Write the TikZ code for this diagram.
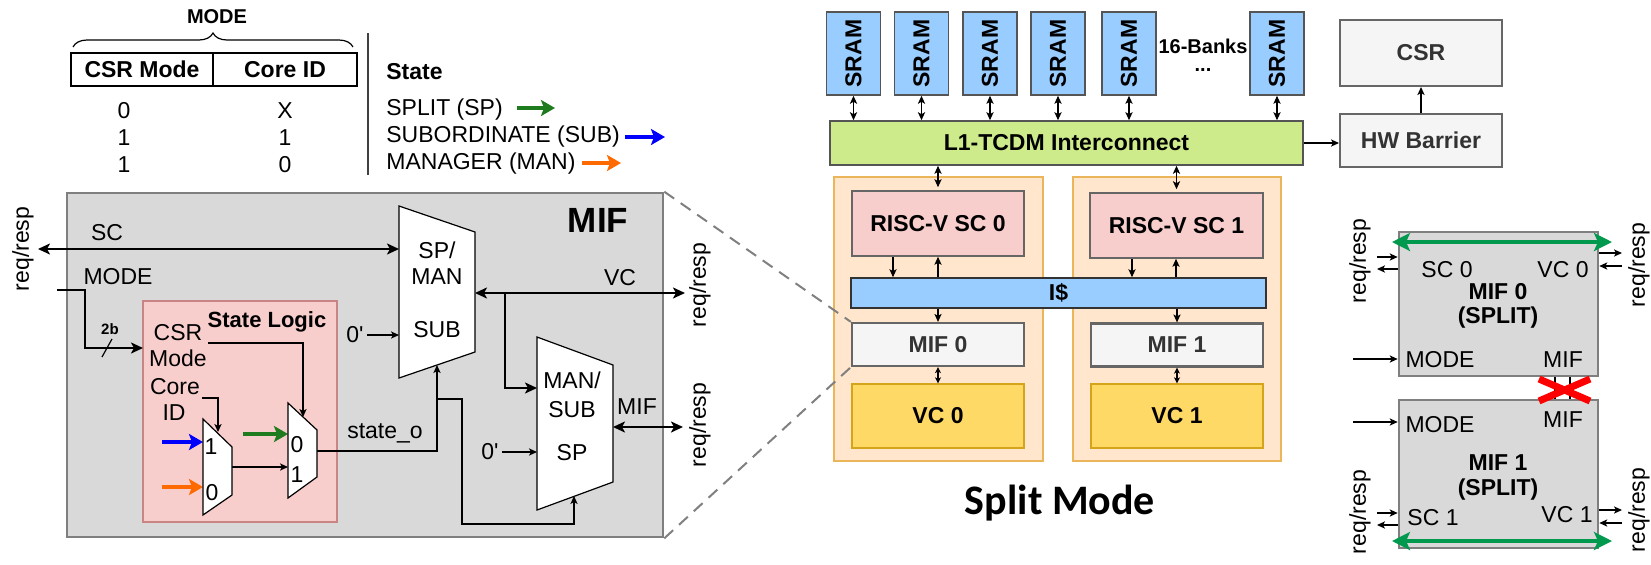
\documentclass[tikz,border=0pt]{standalone}
\usepackage{graphicx}
\usepackage{fontspec}
\setmainfont{Liberation Sans}
\newfontfamily\captionfont{Carlito}
\usetikzlibrary{arrows.meta,decorations.pathreplacing}

\definecolor{mifbg}{HTML}{D9D9D9}
\definecolor{mifedge}{HTML}{7F7F7F}
\definecolor{logicbg}{HTML}{F8CECC}
\definecolor{logicedge}{HTML}{C98583}
\definecolor{srambg}{HTML}{99CCFF}
\definecolor{darkedge}{HTML}{555555}
\definecolor{xbarbg}{HTML}{CDEB8B}
\definecolor{corebg}{HTML}{FFE6CC}
\definecolor{coreedge}{HTML}{EBB65A}
\definecolor{riscbg}{HTML}{F8CECC}
\definecolor{greyedge}{HTML}{666666}
\definecolor{vcbg}{HTML}{FFD966}
\definecolor{vcedge}{HTML}{D6A41A}
\definecolor{paleg}{HTML}{F5F5F5}
\definecolor{txtgray}{HTML}{333333}
\definecolor{spgreen}{HTML}{1E7B1E}
\definecolor{subblue}{HTML}{0000FF}
\definecolor{manorange}{HTML}{FF6A00}
\definecolor{splitgreen}{HTML}{00994D}
\definecolor{dashgray}{HTML}{808080}

\begin{document}
\begin{tikzpicture}[x=0.5pt, y=-0.5pt,
  lbl/.style={inner sep=0pt, font=\fontsize{11.5}{13}\selectfont},
  blbl/.style={inner sep=0pt, font=\fontsize{11.5}{13}\selectfont\bfseries},
  vlbl/.style={lbl, rotate=90},
  wire/.style={line width=0.6pt, draw=black},
  bus/.style={line width=1.1pt, draw=black},
  wtip/.style={-{Stealth[length=4pt,width=3.6pt,inset=1pt]}},
  wboth/.style={{Stealth[length=4pt,width=3.6pt,inset=1pt]}-{Stealth[length=4pt,width=3.6pt,inset=1pt]}},
  sboth/.style={{Stealth[length=3pt,width=3pt,inset=0.8pt]}-{Stealth[length=3pt,width=3pt,inset=0.8pt]}},
  btip/.style={-{Stealth[length=6pt,width=5.5pt,inset=1.5pt]}},
  bboth/.style={{Stealth[length=6pt,width=5.5pt,inset=1.5pt]}-{Stealth[length=6pt,width=5.5pt,inset=1.5pt]}},
  legarrow/.style={line width=1.7pt, -{Stealth[length=7pt,width=8pt,inset=1.5pt]}},
  gboth/.style={line width=1.6pt, draw=splitgreen, {Stealth[length=9pt,width=9pt,inset=2pt]}-{Stealth[length=9pt,width=9pt,inset=2pt]}},
  muxshape/.style={draw=black, fill=white, line width=0.6pt},
  block/.style={draw, inner sep=0pt, align=center, font=\fontsize{11.5}{13}\selectfont\bfseries},
]
\useasboundingbox (0,0) rectangle (1651,564);

% ================= MODE encoding table =================
\node[blbl, font=\fontsize{10}{12}\selectfont\bfseries] (modehdr) at (217,17) {MODE};
\coordinate (braceL) at (73,47);
\coordinate (braceR) at (353,47);
\draw[line width=0.6pt, decorate, decoration={brace, amplitude=7pt}] (braceL) -- (braceR);
\node[draw, line width=0.75pt, minimum width=71pt, minimum height=16.5pt, blbl] (csrcol) at (142,69.5) {CSR Mode};
\node[draw, line width=0.75pt, minimum width=72pt, minimum height=16.5pt, blbl] (coreidcol) at (285,69.5) {Core ID};
\node[lbl] (r1a) at (124,111) {0};
\node[lbl] (r1b) at (285,111) {X};
\node[lbl] (r2a) at (124,138) {1};
\node[lbl] (r2b) at (285,138) {1};
\node[lbl] (r3a) at (124,165) {1};
\node[lbl] (r3b) at (285,165) {0};
\coordinate (sepT) at (368,33);
\coordinate (sepB) at (368,175);
\draw[line width=0.7pt, draw=black!75] (sepT) -- (sepB);

% ================= state legend =================
\node[blbl, anchor=west] (statehdr) at (386,72) {State};
\node[lbl, anchor=west] (stsp) at (386,110) {SPLIT (SP)};
\node[lbl, anchor=west] (stsub) at (386,137) {SUBORDINATE (SUB)};
\node[lbl, anchor=west] (stman) at (386,164) {MANAGER (MAN)};
\coordinate (spA) at (517,108);  \coordinate (spB) at (555,108);
\coordinate (subA) at (625,137); \coordinate (subB) at (665,137);
\coordinate (manA) at (582,163); \coordinate (manB) at (621,163);
\draw[legarrow, draw=spgreen] (spA) -- (spB);
\draw[legarrow, draw=subblue] (subA) -- (subB);
\draw[legarrow, draw=manorange] (manA) -- (manB);

% ================= MIF internals =================
\node[draw=mifedge, fill=mifbg, line width=1.3pt, minimum width=298pt, minimum height=172pt, inner sep=0pt] (mifbox) at (365,365) {};
\node[inner sep=0pt, font=\fontsize{17.5}{20}\selectfont\bfseries] (miftitle) at (598,220) {MIF};

% state logic block
\node[draw=logicedge, fill=logicbg, line width=0.6pt, minimum width=97pt, minimum height=110.5pt, inner sep=0pt] (statelogic) at (240,411.5) {};
\node[blbl, font=\fontsize{11}{13}\selectfont\bfseries] (sltitle) at (267,322) {State Logic};
\node[lbl] (csrlbl) at (178,333) {CSR};
\node[lbl] (modelbl) at (178,358) {Mode};
\node[lbl] (corelbl) at (175,387) {Core};
\node[lbl] (idlbl) at (174,413) {ID};

% external labels
\node[vlbl] (rrsc) at (23,249) {req/resp};
\node[lbl] (sclbl) at (107,233) {SC};
\node[lbl] (modein) at (118,277) {MODE};
\node[inner sep=0pt, font=\fontsize{7.5}{9}\selectfont\bfseries] (twob) at (110,329) {2b};
\node[lbl] (vclbl) at (620,278) {VC};
\node[vlbl] (rrvc) at (700,285) {req/resp};
\node[lbl] (miflbl) at (637,407) {MIF};
\node[vlbl] (rrmif) at (700,425) {req/resp};
\node[lbl] (statelbl) at (385,433) {state\_o};
\node[lbl] (zeroA) at (355,335) {0\textquotesingle};
\node[lbl] (zeroB) at (490,452) {0\textquotesingle};

% port coordinates
\coordinate (scL) at (38,249);    \coordinate (scR) at (399,249);
\coordinate (modeS) at (57,290);  \coordinate (modeK) at (85,290);
\coordinate (modeJ) at (85,348);  \coordinate (modeE) at (143,348);
\coordinate (slashA) at (102,357); \coordinate (slashB) at (112,339);
\coordinate (csrS) at (208,343);  \coordinate (csrK) at (303,343);  \coordinate (csrE) at (303,417);
\coordinate (cidS) at (202,398);  \coordinate (cidK) at (218,398);  \coordinate (cidE) at (218,432);
\coordinate (blueS) at (162,442); \coordinate (blueE) at (203,442);
\coordinate (orS) at (162,487);   \coordinate (orE) at (203,487);
\coordinate (grS) at (243,434);   \coordinate (grE) at (288,434);
\coordinate (m1out) at (232,467); \coordinate (m2in1) at (288,467);
\coordinate (m2out) at (317,451); \coordinate (stK) at (437,451); \coordinate (stE) at (437,365);
\coordinate (stJ) at (437,399);   \coordinate (stK2) at (462,399); \coordinate (stK3) at (462,524);
\coordinate (stK4) at (574,524);  \coordinate (stE2) at (574,496);
\coordinate (zAS) at (367,335);   \coordinate (zAE) at (399,335);
\coordinate (zBS) at (502,452);   \coordinate (zBE) at (537,452);
\coordinate (vcL) at (475,293);   \coordinate (vcR) at (685,293);
\coordinate (brS) at (505,293);   \coordinate (brK) at (505,388);   \coordinate (brE) at (537,388);
\coordinate (mifL) at (613,427);  \coordinate (mifR) at (683,427);

% wires
\draw[bus, bboth] (scL) -- (scR);
\draw[bus, btip] (modeS) -- (modeK) -- (modeJ) -- (modeE);
\draw[wire] (slashA) -- (slashB);
\draw[wire, wtip] (csrS) -- (csrK) -- (csrE);
\draw[wire, wtip] (cidS) -- (cidK) -- (cidE);
\draw[legarrow, draw=subblue] (blueS) -- (blueE);
\draw[legarrow, draw=manorange] (orS) -- (orE);
\draw[legarrow, draw=spgreen] (grS) -- (grE);
\draw[wire, wtip] (m1out) -- (m2in1);
\draw[wire, wtip] (m2out) -- (stK) -- (stE);
\draw[wire, wtip] (stJ) -- (stK2) -- (stK3) -- (stK4) -- (stE2);
\draw[wire, wtip] (zAS) -- (zAE);
\draw[wire, wtip] (zBS) -- (zBE);
\draw[bus, bboth] (vcL) -- (vcR);
\draw[bus, btip] (brS) -- (brK) -- (brE);
\draw[bus, bboth] (mifL) -- (mifR);

% multiplexers
\draw[muxshape] (203,419) -- (232,447) -- (232,495) -- (203,515) -- cycle;
\draw[muxshape] (288,403) -- (317,430) -- (317,477) -- (288,498) -- cycle;
\draw[muxshape] (399,206) -- (475,232) -- (475,352) -- (399,378) -- cycle;
\draw[muxshape] (537,337) -- (613,365) -- (613,482) -- (537,510) -- cycle;
\node[lbl] (m1one) at (211,447) {1};
\node[lbl] (m1zero) at (212,493) {0};
\node[lbl] (m2zero) at (297,445) {0};
\node[lbl] (m2one) at (297,475) {1};
\node[lbl] (spmA) at (437,250) {SP/};
\node[lbl] (spmB) at (437,277) {MAN};
\node[lbl] (spmC) at (437,330) {SUB};
\node[lbl] (msA) at (572,380) {MAN/};
\node[lbl] (msB) at (572,410) {SUB};
\node[lbl] (msC) at (572,453) {SP};

% ================= memory side =================
\foreach \i/\cx in {1/853.5, 2/921.5, 3/990, 4/1058, 5/1129, 6/1277} {
  \node[block, fill=srambg, draw=darkedge, line width=0.8pt, minimum width=27pt, minimum height=41.5pt] (sram\i) at (\cx,53.5) {\rotatebox{90}{SRAM}};
}
\node[blbl, font=\fontsize{10}{12}\selectfont\bfseries] (banks) at (1203,46) {16-Banks};
\node[blbl, font=\fontsize{10}{12}\selectfont\bfseries] (bankdots) at (1203,70) {...};
\node[block, fill=xbarbg, draw=darkedge, line width=0.8pt, minimum width=236.5pt, minimum height=22pt] (xbar) at (1066.5,143) {L1-TCDM Interconnect};
\foreach \i in {1,...,6} {
  \draw[wire, wboth] (sram\i.south) -- (sram\i.south |- xbar.north);
}
\node[block, fill=paleg, draw=greyedge, line width=1pt, text=txtgray, minimum width=81pt, minimum height=33pt] (csr) at (1421,53) {CSR};
\node[block, fill=paleg, draw=greyedge, line width=1pt, text=txtgray, minimum width=81pt, minimum height=26.5pt] (hwbar) at (1421,140.5) {HW Barrier};
\draw[wire, wtip] (xbar.east) -- (xbar.east -| hwbar.west);
\draw[line width=1pt, wtip] (hwbar.north) -- (csr.south);

% cores
\node[draw=coreedge, fill=corebg, line width=0.6pt, minimum width=104.5pt, minimum height=142pt, inner sep=0pt] (core0) at (938.5,319) {};
\node[draw=coreedge, fill=corebg, line width=0.6pt, minimum width=104pt, minimum height=142pt, inner sep=0pt] (core1) at (1177,319) {};
\node[block, fill=riscbg, draw=greyedge, line width=0.8pt, minimum width=86pt, minimum height=32.5pt] (risc0) at (938,223.5) {RISC-V SC 0};
\node[block, fill=riscbg, draw=greyedge, line width=0.8pt, minimum width=86.5pt, minimum height=32.5pt] (risc1) at (1176.5,225.5) {RISC-V SC 1};
\node[block, fill=srambg, draw=txtgray, line width=0.8pt, minimum width=207.5pt, minimum height=15pt] (icache) at (1058.5,293) {I\$};
\node[block, fill=paleg, draw=greyedge, line width=1.1pt, text=txtgray, minimum width=86pt, minimum height=21.5pt] (mif0) at (938,344.5) {MIF 0};
\node[block, fill=paleg, draw=greyedge, line width=1.1pt, text=txtgray, minimum width=86pt, minimum height=21.5pt] (mif1) at (1177,345) {MIF 1};
\node[block, fill=vcbg, draw=vcedge, line width=0.7pt, minimum width=86pt, minimum height=32pt] (vc0) at (938,416) {VC 0};
\node[block, fill=vcbg, draw=vcedge, line width=0.7pt, minimum width=86pt, minimum height=32pt] (vc1) at (1177,416) {VC 1};

\draw[wire, wboth] (risc0.north |- xbar.south) -- ([yshift=1.5pt]risc0.north);
\draw[wire, wboth] (risc1.north |- xbar.south) -- ([yshift=1.5pt]risc1.north);
\draw[wire, wtip] ([xshift=-22.5pt]risc0.south) -- ([xshift=-22.5pt]risc0.south |- icache.north);
\draw[wire, wtip] (risc0.south |- icache.north) -- (risc0.south);
\draw[wire, wtip] ([xshift=-22.25pt]risc1.south) -- ([xshift=-22.25pt]risc1.south |- icache.north);
\draw[wire, wtip] ([xshift=-0.25pt]risc1.south |- icache.north) -- ([xshift=-0.25pt]risc1.south);
\draw[wire, wtip] (mif0.north |- icache.south) -- (mif0.north);
\draw[wire, wtip] (mif1.north |- icache.south) -- (mif1.north);
\draw[wire, sboth] (mif0.south) -- (vc0.north);
\draw[wire, sboth] (mif1.south) -- (vc1.north);

% zoom guides from the MIF detail to MIF 0
\draw[dashgray, line width=1pt, dash pattern=on 6pt off 4pt] (mifbox.north east) -- (mif0.north west);
\draw[dashgray, line width=1pt, dash pattern=on 6pt off 4pt] (mifbox.south east) -- (mif0.south west);

\node[inner sep=0pt, font=\captionfont\fontsize{21}{25}\selectfont\bfseries] (caption) at (1060,503) {Split Mode};

% ================= split-mode MIF pair =================
\node[draw=mifedge, fill=mifbg, line width=1.3pt, minimum width=99.5pt, minimum height=72pt, inner sep=0pt] (mifA) at (1498.5,304) {};
\node[draw=mifedge, fill=mifbg, line width=1.3pt, minimum width=99.5pt, minimum height=74pt, inner sep=0pt] (mifB) at (1498.5,474) {};

\node[lbl] (aSC) at (1447,270) {SC 0};
\node[lbl] (aVC) at (1563,270) {VC 0};
\node[blbl] (aName) at (1498,292) {MIF 0};
\node[blbl] (aSplit) at (1498,318) {(SPLIT)};
\node[lbl] (aMode) at (1440,360) {MODE};
\node[lbl] (aMif) at (1563,360) {MIF};
\node[lbl] (bMode) at (1440,425) {MODE};
\node[lbl] (bMif) at (1563,420) {MIF};
\node[blbl] (bName) at (1498,463) {MIF 1};
\node[blbl] (bSplit) at (1498,490) {(SPLIT)};
\node[lbl] (bSC) at (1433,518) {SC 1};
\node[lbl] (bVC) at (1567,515) {VC 1};

\node[vlbl] (rrA1) at (1360,261) {req/resp};
\node[vlbl] (rrA2) at (1639,265) {req/resp};
\node[vlbl] (rrB1) at (1360,512) {req/resp};
\node[vlbl] (rrB2) at (1639,510) {req/resp};

\coordinate (aLi) at (1377,257);  \coordinate (aLo) at (1377,269);
\coordinate (aRo) at (1622,253);  \coordinate (aRi) at (1622,266);
\coordinate (bLi) at (1377,513);  \coordinate (bLo) at (1377,525);
\coordinate (bRo) at (1622,510);  \coordinate (bRi) at (1622,523);
\draw[wire, wtip] (aLi) -- (aLi -| mifA.west);
\draw[wire, wtip] (aLo -| mifA.west) -- (aLo);
\draw[wire, wtip] (aRo -| mifA.east) -- (aRo);
\draw[wire, wtip] (aRi) -- (aRi -| mifA.east);
\draw[wire, wtip] (bLi) -- (bLi -| mifB.west);
\draw[wire, wtip] (bLo -| mifB.west) -- (bLo);
\draw[wire, wtip] (bRo -| mifB.east) -- (bRo);
\draw[wire, wtip] (bRi) -- (bRi -| mifB.east);

\coordinate (aModeS) at (1353,359);
\coordinate (bModeS) at (1353,422);
\draw[wire, wtip] (aModeS) -- (aModeS -| mifA.west);
\draw[wire, wtip] (bModeS) -- (bModeS -| mifB.west);

\coordinate (gAL) at (1392,242); \coordinate (gAR) at (1612,242);
\coordinate (gBL) at (1392,541); \coordinate (gBR) at (1612,541);
\draw[gboth] (gAL) -- (gAR);
\draw[gboth] (gBL) -- (gBR);

% broken MIF-to-MIF link
\coordinate (lnk1) at (1555,0); \coordinate (lnk2) at (1570,0);
\draw[wire] (lnk1 |- mifA.south) -- (lnk1 |- mifB.north);
\draw[wire] (lnk2 |- mifA.south) -- (lnk2 |- mifB.north);
\coordinate (xA) at (1539,379); \coordinate (xB) at (1590,401);
\coordinate (xC) at (1539,401); \coordinate (xD) at (1590,379);
\draw[red, line width=3.5pt] (xA) -- (xB);
\draw[red, line width=3.5pt] (xC) -- (xD);
\end{tikzpicture}
\end{document}
